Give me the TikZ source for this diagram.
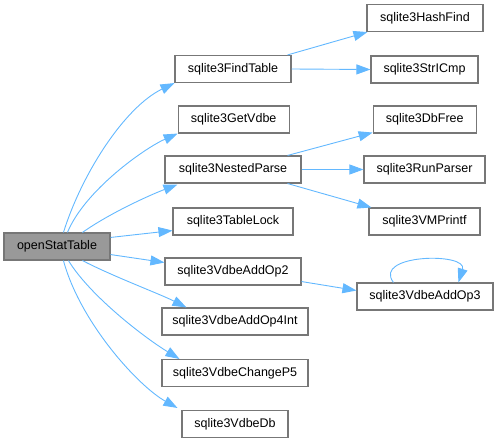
\documentclass[tikz,border=0pt]{standalone}
\usepackage{fontspec}
\setmainfont{Liberation Sans}
\usetikzlibrary{arrows.meta,calc}
\definecolor{edgeblue}{HTML}{63B8FF}
\definecolor{boxline}{HTML}{777777}
\definecolor{rootfill}{HTML}{999999}
\tikzset{
  fn/.style={draw=boxline, line width=1.1bp, fill=white, rectangle, inner sep=0pt,
    minimum height=27bp, font=\fontsize{12.5bp}{15bp}\selectfont, text=black},
  rootbox/.style={fn, fill=rootfill},
  call/.style={draw=edgeblue, line width=0.9bp, -{Triangle[length=14bp,width=10bp]}},
}
\begin{document}
\begin{tikzpicture}[x=1bp,y=-1bp]
\useasboundingbox (0,0) rectangle (499,443);
% nodes
\node[rootbox, minimum width=106bp] (root) at (57,246.5) {openStatTable};
\node[fn, minimum width=116bp] (find) at (233,69) {sqlite3FindTable};
\node[fn, minimum width=116bp] (hash) at (425,18) {sqlite3HashFind};
\node[fn, minimum width=107bp] (stricmp) at (424.5,69.5) {sqlite3StrICmp};
\node[fn, minimum width=111bp] (getvdbe) at (233.7,119.5) {sqlite3GetVdbe};
\node[fn, minimum width=103bp] (dbfree) at (424.7,119.5) {sqlite3DbFree};
\node[fn, minimum width=136bp] (nested) at (233,169.5) {sqlite3NestedParse};
\node[fn, minimum width=121bp] (runparser) at (424.5,169.5) {sqlite3RunParser};
\node[fn, minimum width=120bp] (tablelock) at (233,221.5) {sqlite3TableLock};
\node[fn, minimum width=111bp] (vmprintf) at (424.5,221.5) {sqlite3VMPrintf};
\node[fn, minimum width=136bp] (addop2) at (233,271.5) {sqlite3VdbeAddOp2};
\node[fn, minimum width=136bp] (addop3) at (425,296.5) {sqlite3VdbeAddOp3};
\node[fn, minimum width=146bp] (addop4) at (235,321.5) {sqlite3VdbeAddOp4Int};
\node[fn, minimum width=146bp] (changep5) at (235,373) {sqlite3VdbeChangeP5};
\node[fn, minimum width=106bp] (vdbedb) at (235,424) {sqlite3VdbeDb};
% edges from root
\draw[call] ($(root.north west)+(60,0)$) .. controls (82,173) and (125,107) .. (find.south west);
\draw[call] ($(root.north west)+(64,0)$) .. controls (85,190) and (145,148) .. (getvdbe.south west);
\draw[call] ($(root.north west)+(79,0)$) .. controls (110,213) and (150,195) .. ($(nested.south west)+(13,1)$);
\draw[call] ($(root.north east)+(0,5)$) -- ($(tablelock.south west)+(0,-5)$);
\draw[call] ($(root.south east)+(0,-6)$) -- ($(addop2.west)+(0,-9)$);
\draw[call] ($(root.south west)+(79,0)$) .. controls (112,276) and (160,294) .. ($(addop4.north west)+(25,0)$);
\draw[call] ($(root.south west)+(65,0)$) .. controls (90,296) and (145,338) .. ($(changep5.north west)+(18,0)$);
\draw[call] ($(root.south west)+(60,0)$) .. controls (80,322) and (138,386) .. ($(vdbedb.north west)+(-4,-2)$);
% second level
\draw[call] ($(find.north east)+(-4,0)$) -- ($(hash.south west)+(1,0)$);
\draw[call] (find.east) -- (stricmp.west);
\draw[call] ($(nested.north east)+(-14,0)$) -- ($(dbfree.south west)+(0,-1)$);
\draw[call] (nested.east) -- (runparser.west);
\draw[call] ($(nested.south east)+(-14,0)$) -- ($(vmprintf.north west)+(3,0)$);
\draw[call] ($(addop2.south east)+(0,-4)$) -- ($(addop3.west)+(0,-6)$);
\draw[call] ($(addop3.north west)+(37,0)$) .. controls (372,254) and (468,252) .. ($(addop3.north west)+(102,0)$);
\end{tikzpicture}
\end{document}
